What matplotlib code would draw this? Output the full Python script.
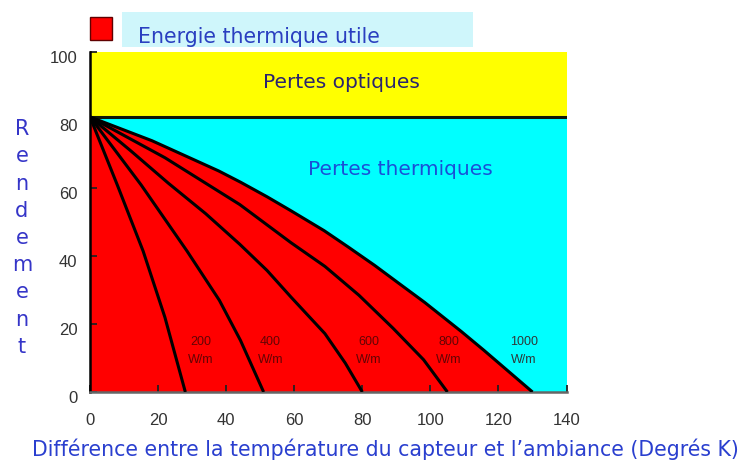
import numpy as np
import matplotlib
matplotlib.use("Agg")
import matplotlib.pyplot as plt
from matplotlib.patches import Rectangle
from matplotlib.transforms import ScaledTranslation

# optical efficiency (%) where all curves start
eta0 = 81

# efficiency curves (read points), one per irradiance level
x_200 = [0, 8, 15.6, 22, 28]
y_200 = [eta0, 61, 41.5, 22, 0]
x_400 = [0, 15, 28.5, 38, 44.2, 51]
y_400 = [eta0, 61, 41.5, 27, 15.2, 0]
x_600 = [0, 12, 23, 34, 44, 52, 59, 69, 75, 80]
y_600 = [eta0, 71, 61.5, 52.5, 43.5, 35.8, 28, 17.2, 8.5, 0]
x_800 = [0, 22, 44, 59, 69, 79, 89, 98, 105]
y_800 = [eta0, 69, 55.2, 44, 37, 28.5, 18.8, 9.5, 0]
x_1000 = [0, 18.2, 37.8, 44.2, 52, 59, 68.8, 76, 83.6, 91, 98.3, 109.1,
          115.7, 130]
y_1000 = [eta0, 74, 65.1, 61.8, 57.5, 53.4, 47.5, 42.6, 37.3, 31.8, 26.4,
          17.8, 12.3, 0]

curves = [(x_200, y_200), (x_400, y_400), (x_600, y_600),
          (x_800, y_800), (x_1000, y_1000)]
irradiance = ["200", "400", "600", "800", "1000"]
label_x = [32.5, 53, 82, 105.5, 127.5]

xticks = [0, 20, 40, 60, 80, 100, 120, 140]
yticks = [0, 20, 40, 60, 80, 100]

fig = plt.figure(figsize=(7.54, 4.62), dpi=100)
ax = fig.add_axes([0.1194, 0.1515, 0.632, 0.735])

ax.set_facecolor("#00ffff")
ax.axhspan(eta0, 100, color="#ffff00", zorder=0)
ax.axhline(eta0, color="#101808", lw=2.2, zorder=3)
ax.fill_between(x_1000, y_1000, 0, color="#ff0000", lw=0, zorder=1)

for xs, ys in curves:
    ax.plot(xs, ys, color="black", lw=2.2, zorder=4, solid_capstyle="butt",
            solid_joinstyle="round")

for lx, txt in zip(label_x, irradiance):
    ax.text(lx, 12, txt + "\nW/m", ha="center", va="center", fontsize=9,
            family="Liberation Sans", color="#3a0505", alpha=0.8,
            linespacing=1.7, zorder=5)

ax.text(74, 91.2, "Pertes optiques", ha="center", va="center",
        fontsize=14.5, color="#2a2470", zorder=5)
ax.text(91.2, 65.5, "Pertes thermiques", ha="center", va="center",
        fontsize=14.5, color="#1a4fd6", zorder=5)

ax.set_xlim(0, 140)
ax.set_ylim(0, 100)
ax.set_xticks(xticks)
ax.set_yticks(yticks)
ax.tick_params(axis="both", direction="in", length=5, width=1.3,
               colors="#222222", labelsize=12)
ax.tick_params(axis="x", pad=15)
ax.tick_params(axis="y", pad=9)
for lab in ax.get_xticklabels() + ax.get_yticklabels():
    lab.set_family("Liberation Sans")
    lab.set_color("#333333")
# y labels sit a little below their ticks
shift = ScaledTranslation(0, -5 / 100, fig.dpi_scale_trans)
for lab in ax.get_yticklabels():
    lab.set_transform(lab.get_transform() + shift)

for side in ["top", "right"]:
    ax.spines[side].set_visible(False)
ax.spines["left"].set_color("black")
ax.spines["left"].set_linewidth(1.8)
ax.spines["bottom"].set_color("#666666")
ax.spines["bottom"].set_linewidth(1.8)

# vertical y label, one letter per line
fig.text(22 / 754, 1 - 238 / 462, "\n".join("Rendement"), ha="center",
         va="center", fontsize=15, color="#3535c8", linespacing=1.45)

fig.text(385 / 754, 1 - 449 / 462,
         "Différence entre la température du capteur et l’ambiance (Degrés K)",
         ha="center", va="center", fontsize=14.8, color="#2a3fcf")

# legend: red swatch and pale box, text clipped at the box bottom
fig.patches.append(Rectangle((90 / 754, 1 - 40 / 462), 22 / 754, 23 / 462,
                             transform=fig.transFigure, facecolor="#ff0000",
                             edgecolor="#600000", lw=1.0, zorder=-2))
box = Rectangle((122 / 754, 1 - 47 / 462), 351 / 754, 35 / 462,
                transform=fig.transFigure, facecolor="#cff6fb",
                edgecolor="none", zorder=-3)
fig.patches.append(box)
legend_text = fig.text(138 / 754, 1 - 43 / 462, "Energie thermique utile",
                       ha="left", va="baseline", fontsize=14.8,
                       color="#2a3fc0", zorder=-1)
legend_text.set_clip_path(box)

fig.savefig("out.png", dpi=100)
